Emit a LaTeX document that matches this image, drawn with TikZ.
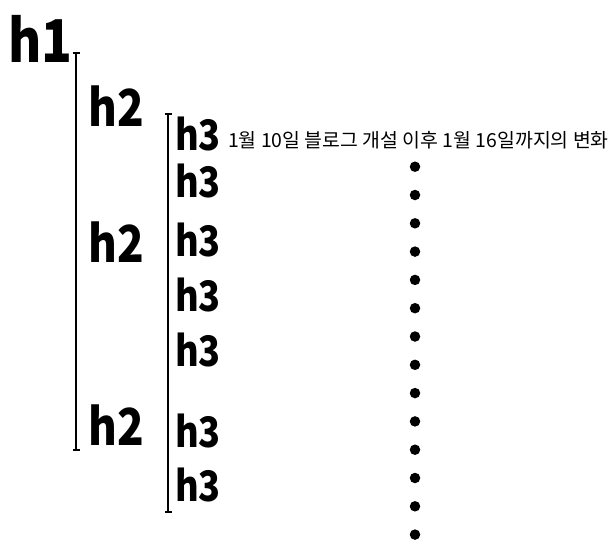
\documentclass[tikz,border=0pt]{standalone}
\usepackage{fontspec}
\setmainfont{Noto Sans CJK KR}
\newfontfamily\headfont{Noto Sans CJK KR}[FakeStretch=0.86]
\usetikzlibrary{positioning,arrows.meta}

\begin{document}
\begin{tikzpicture}[x=1pt,y=-1pt,
    head/.style={inner sep=0pt, anchor=base west},
    hone/.style={head, font=\headfont\fontsize{59}{59}\bfseries\selectfont},
    htwo/.style={head, font=\headfont\fontsize{51}{51}\bfseries\selectfont},
    hthree/.style={head, font=\headfont\fontsize{42}{42}\bfseries\selectfont},
    span/.style={line width=1.6pt, {Bar[width=7pt]}-{Bar[width=7pt]}},
    dot/.style={circle, fill=black, inner sep=0pt, minimum size=10.5pt}]
      \useasboundingbox (0,0) rectangle (616,555);
      % headings
      \node[hone] (h1) at (8,62) {h1};
      \node[htwo] (h2a) at (88,126) {h2};
      \node[htwo] (h2b) at (88,262) {h2};
      \node[htwo] (h2c) at (88,445) {h2};
      \foreach \n/\y in {a/150,b/197,c/256,d/311,e/366,f/447,g/501}
        \node[hthree] (h3\n) at (175,\y) {h3};
      \node[inner sep=0pt, anchor=base west, font=\fontsize{19.4}{19}\selectfont] (title) at (228,147)
        {1월 10일 블로그 개설 이후 1월 16일까지의 변화};
      % brackets
      \coordinate (s1top) at (76,52);
      \coordinate (s1bot) at (76,451);
      \coordinate (s3top) at (168,113);
      \coordinate (s3bot) at (168,513);
      \draw[span] (s1top) -- (s1bot);
      \draw[span] (s3top) -- (s3bot);
      % dots
      \foreach \i in {0,...,13}
        \node[dot] (d\i) at (415,{166.7+28.3*\i}) {};
    \end{tikzpicture}
\end{document}
